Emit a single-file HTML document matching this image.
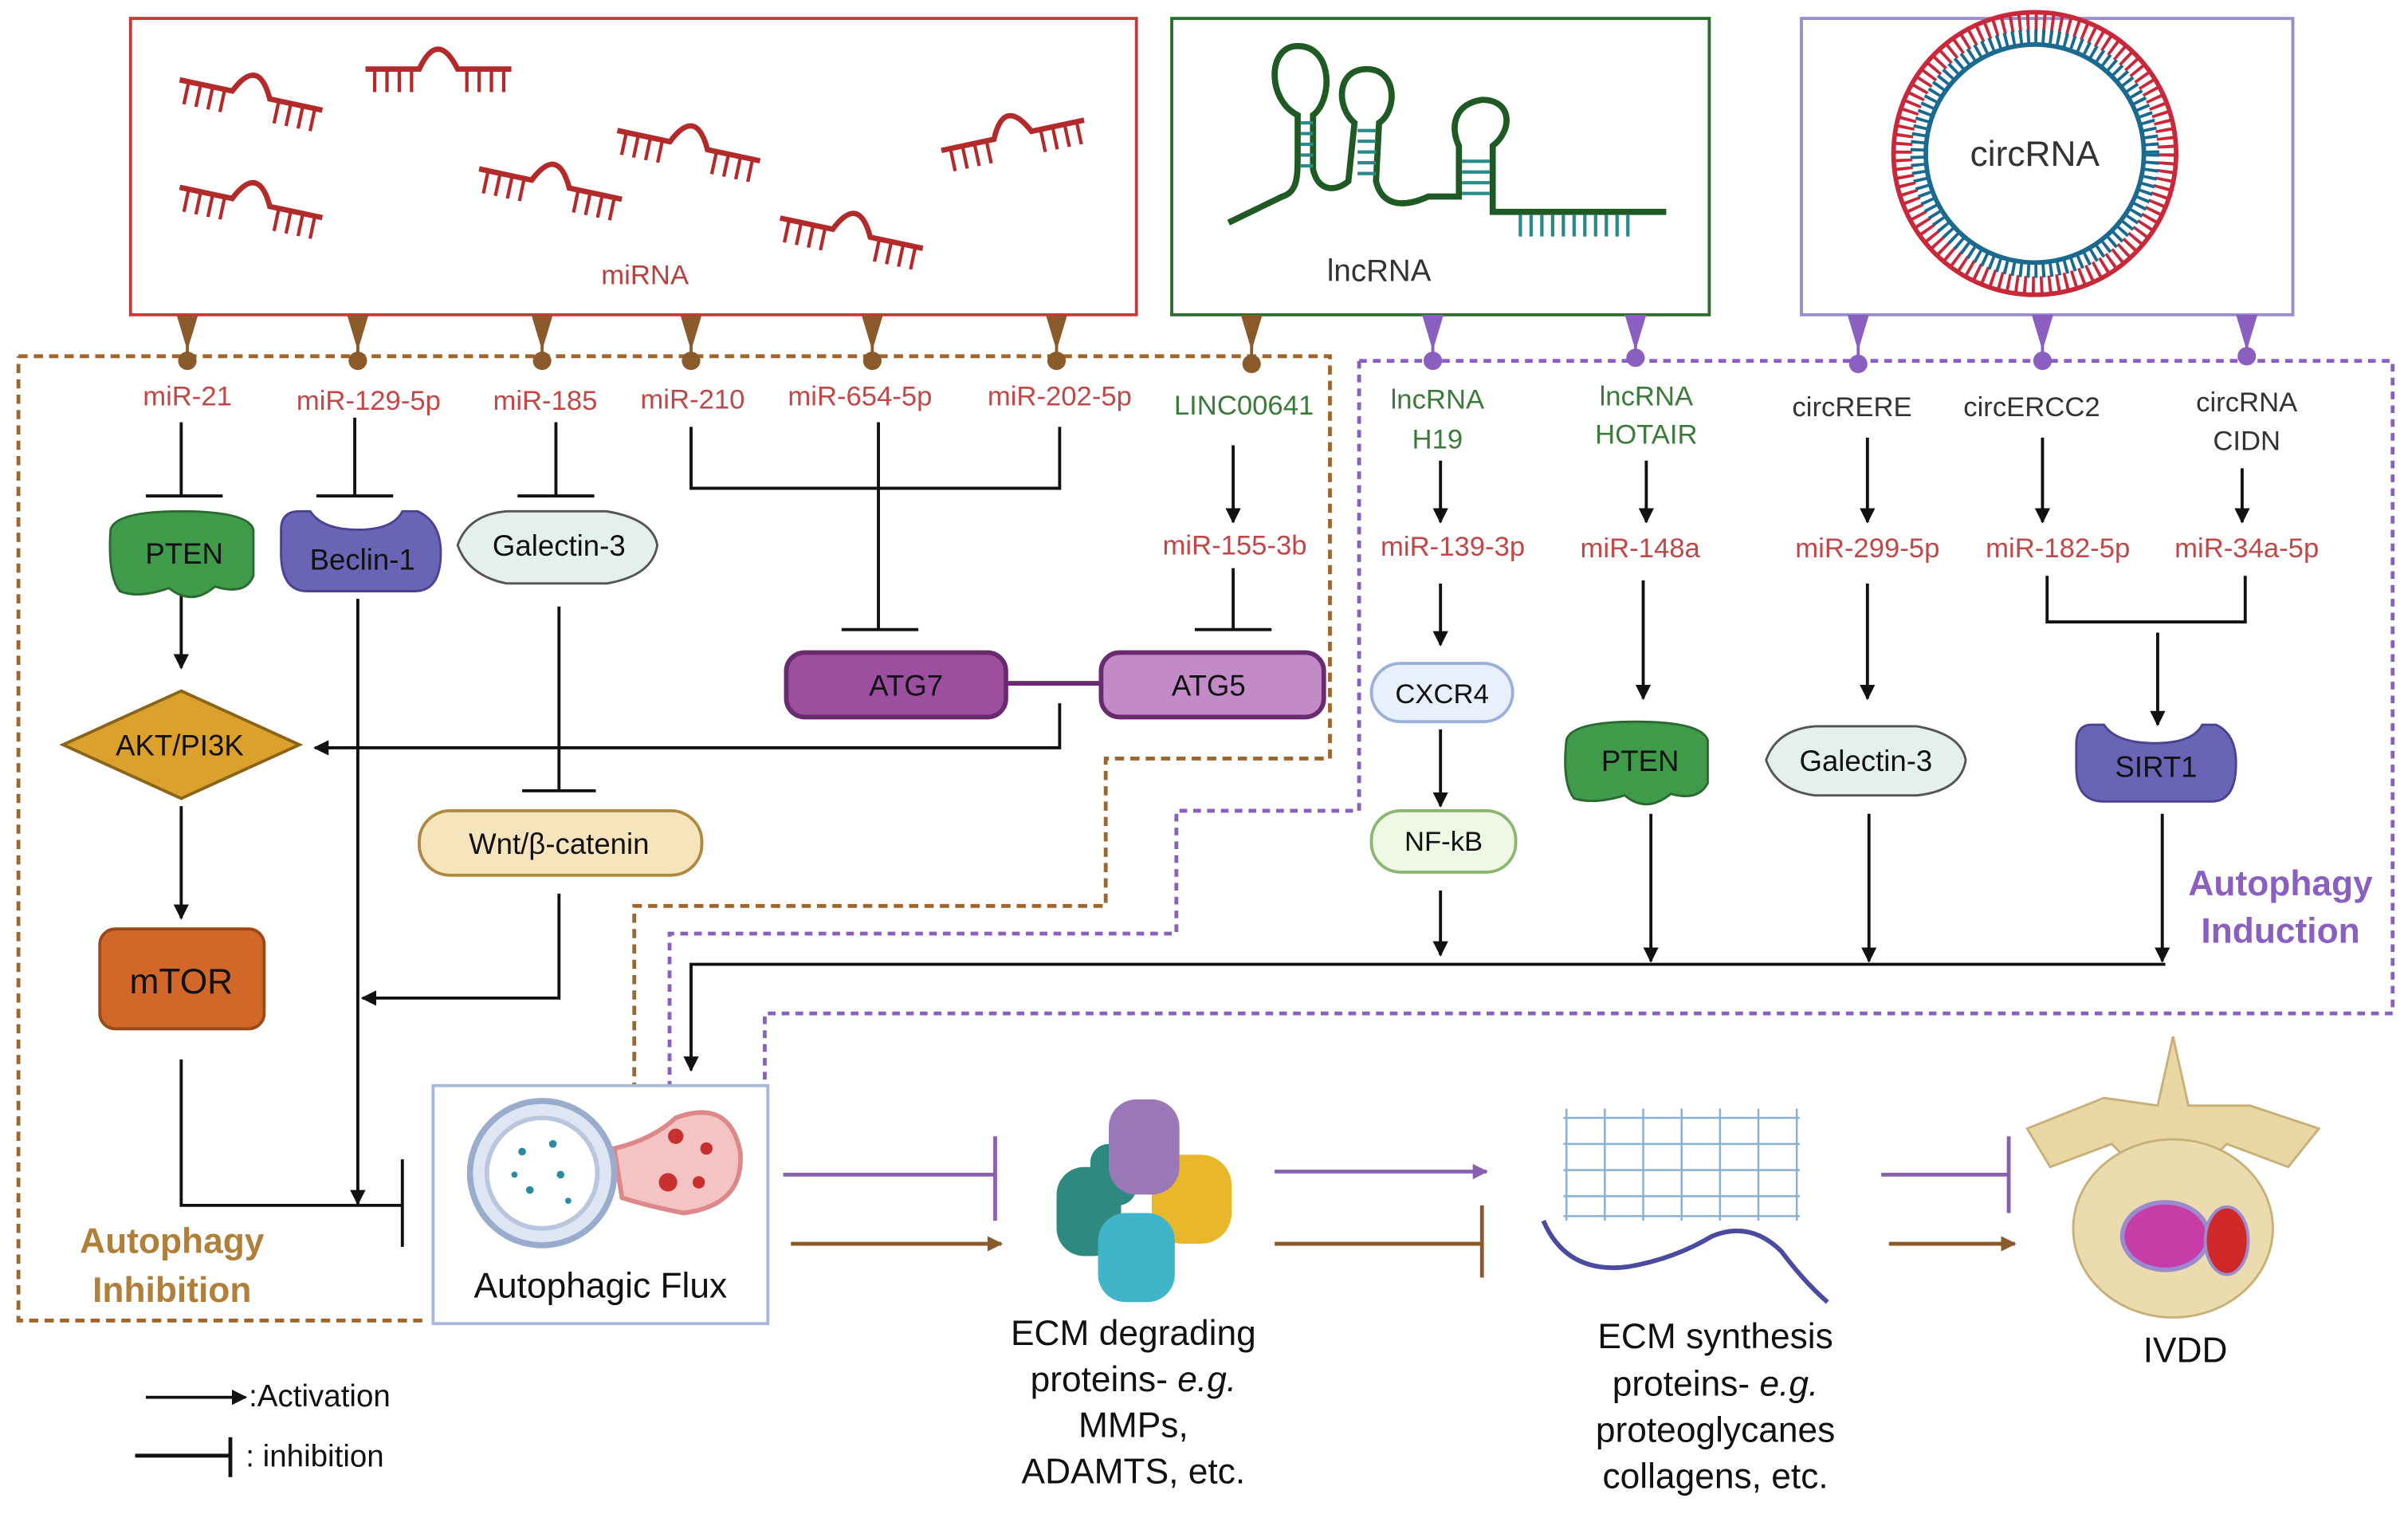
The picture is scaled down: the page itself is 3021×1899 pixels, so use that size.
<!DOCTYPE html>
<html><head><meta charset="utf-8"><style>
html,body{margin:0;padding:0;background:#fff}
svg{display:block}
text{font-family:"Liberation Sans",sans-serif}
</style></head><body>
<svg width="3021" height="1899" viewBox="0 0 1568 986" preserveAspectRatio="none" xmlns="http://www.w3.org/2000/svg">
<defs>
<marker id="ar" viewBox="0 0 10 10" refX="9" refY="5" markerWidth="5" markerHeight="5" orient="auto-start-reverse"><path d="M0,0L10,5L0,10z" fill="#111"/></marker>
<marker id="arp" viewBox="0 0 10 10" refX="9" refY="5" markerWidth="4" markerHeight="4" orient="auto"><path d="M0,0L10,5L0,10z" fill="#8a5fb0"/></marker>
<marker id="arb" viewBox="0 0 10 10" refX="9" refY="5" markerWidth="4" markerHeight="4" orient="auto"><path d="M0,0L10,5L0,10z" fill="#8b5a2b"/></marker>
<g id="mi" fill="none" stroke="#b22a2a" stroke-width="3.5">
<path d="M0,0 L35,0 Q47,-26 60,0 L95,0"/>
<path d="M6,0v15M14,0v15M22,0v15M30,0v15M66,0v15M74,0v15M82,0v15M90,0v15" stroke-width="2.2"/>
</g>
</defs>

<!-- top boxes -->
<rect x="85" y="12" width="655" height="193" fill="#fff" stroke="#c83a3a" stroke-width="2"/>
<rect x="763" y="12" width="350" height="193" fill="#fff" stroke="#2e6b2e" stroke-width="2"/>
<rect x="1173" y="12" width="320" height="193" fill="#fff" stroke="#9b8ccc" stroke-width="2"/>

<use href="#mi" transform="translate(117,52) rotate(12)"/>
<use href="#mi" transform="translate(238,45)"/>
<use href="#mi" transform="translate(117,122) rotate(12)"/>
<use href="#mi" transform="translate(312,110) rotate(12)"/>
<use href="#mi" transform="translate(402,85) rotate(12)"/>
<use href="#mi" transform="translate(508,142) rotate(12)"/>
<use href="#mi" transform="translate(613,98) rotate(-12)"/>
<text x="420" y="185" font-size="18" fill="#b84040" text-anchor="middle">miRNA</text>

<!-- lncRNA -->
<g fill="none" stroke="#1f5a24" stroke-width="4">
<path d="M800,145 L835,128 C845,125 845,115 845,100 L845,75 C825,65 825,30 845,30 C868,30 868,65 855,75 L855,110 C858,125 870,125 878,118 L882,80 C870,70 870,45 890,45 C910,45 910,72 898,80 L896,118 C900,135 915,135 930,128 L950,128 L950,95 C945,85 945,68 965,65 C985,65 985,85 972,95 L972,138 L1085,138"/>
</g>
<g stroke="#2a8a8a" stroke-width="2.2">
<path d="M847,80h8M847,87h8M847,94h8M847,101h8M847,108h8M884,85h12M884,92h12M884,99h12M884,106h12M884,113h12M952,105h18M952,112h18M952,119h18M952,126h18"/>
<path d="M990,140v14M997,140v14M1004,140v14M1011,140v14M1018,140v14M1025,140v14M1032,140v14M1039,140v14M1046,140v14M1053,140v14M1060,140v14"/>
</g>
<text x="898" y="183" font-size="20" fill="#333" text-anchor="middle">lncRNA</text>

<!-- circRNA -->
<circle cx="1325" cy="100" r="86" fill="none" stroke="#c8283a" stroke-width="12" stroke-dasharray="2 3.4"/>
<circle cx="1325" cy="100" r="76" fill="none" stroke="#1a6a90" stroke-width="10" stroke-dasharray="2 2.9"/>
<circle cx="1325" cy="100" r="92" fill="none" stroke="#c8283a" stroke-width="3"/>
<circle cx="1325" cy="100" r="71" fill="#fff" stroke="#1a6a90" stroke-width="3"/>
<text x="1325" y="108" font-size="23" fill="#333" text-anchor="middle">circRNA</text>

<!-- dashed regions -->
<path d="M12,232 H866 V494 H720 V590 H413 V707 M275,860 H12 V232" fill="none" stroke="#a0652a" stroke-width="2.5" stroke-dasharray="6 4"/>
<path d="M885,235 H1558 V660 H498 V707 M885,235 V528 H766 V608 H436 V707" fill="none" stroke="#8a5fc0" stroke-width="2.5" stroke-dasharray="5 4"/>

<!-- connectors from boxes -->
<g fill="#8b5a2b">
<path d="M115,205h14l-6,20h-2z"/><circle cx="122" cy="235" r="6"/><rect x="121" y="215" width="2" height="18"/>
<path d="M226,205h14l-6,20h-2z"/><circle cx="233" cy="235" r="6"/><rect x="232" y="215" width="2" height="18"/>
<path d="M346,205h14l-6,20h-2z"/><circle cx="353" cy="235" r="6"/><rect x="352" y="215" width="2" height="18"/>
<path d="M443,205h14l-6,20h-2z"/><circle cx="450" cy="235" r="6"/><rect x="449" y="215" width="2" height="18"/>
<path d="M561,205h14l-6,20h-2z"/><circle cx="568" cy="235" r="6"/><rect x="567" y="215" width="2" height="18"/>
<path d="M681,205h14l-6,20h-2z"/><circle cx="688" cy="235" r="6"/><rect x="687" y="215" width="2" height="18"/>
<path d="M808,205h14l-6,20h-2z"/><circle cx="815" cy="237" r="6"/><rect x="814" y="215" width="2" height="18"/>
</g>
<g fill="#8a5fc0">
<path d="M926,205h14l-6,20h-2z"/><circle cx="933" cy="235" r="6"/><rect x="932" y="215" width="2" height="18"/>
<path d="M1058,205h14l-6,20h-2z"/><circle cx="1065" cy="233" r="6"/><rect x="1064" y="215" width="2" height="18"/>
<path d="M1203,205h14l-6,20h-2z"/><circle cx="1210" cy="237" r="6"/><rect x="1209" y="215" width="2" height="18"/>
<path d="M1323,205h14l-6,20h-2z"/><circle cx="1330" cy="235" r="6"/><rect x="1329" y="215" width="2" height="18"/>
<path d="M1456,205h14l-6,20h-2z"/><circle cx="1463" cy="232" r="6"/><rect x="1462" y="215" width="2" height="18"/>
</g>

<!-- labels -->
<g font-size="18" fill="#c04848" text-anchor="middle">
<text x="122" y="264">miR-21</text>
<text x="240" y="267">miR-129-5p</text>
<text x="355" y="267">miR-185</text>
<text x="451" y="266">miR-210</text>
<text x="560" y="264">miR-654-5p</text>
<text x="690" y="264">miR-202-5p</text>
<text x="804" y="361">miR-155-3b</text>
<text x="946" y="362">miR-139-3p</text>
<text x="1068" y="363">miR-148a</text>
<text x="1216" y="363">miR-299-5p</text>
<text x="1340" y="363">miR-182-5p</text>
<text x="1463" y="363">miR-34a-5p</text>
</g>
<g font-size="18" fill="#3c7a3c" text-anchor="middle">
<text x="810" y="270">LINC00641</text>
<text x="936" y="266">lncRNA</text><text x="936" y="292">H19</text>
<text x="1072" y="264">lncRNA</text><text x="1072" y="289">HOTAIR</text>
</g>
<g font-size="18" fill="#333" text-anchor="middle">
<text x="1206" y="271">circRERE</text>
<text x="1323" y="271">circERCC2</text>
<text x="1463" y="268">circRNA</text><text x="1463" y="293">CIDN</text>
</g>

<g stroke="#111" stroke-width="2" fill="none">
<!-- left inhibitions -->
<path d="M118,275V323M95,323H145"/>
<path d="M231,272V323M206,323H256"/>
<path d="M362,275V323M337,323H387"/>
<path d="M450,278V318H690V278M572,275V410M548,410H598"/>
<path d="M803,290V340" marker-end="url(#ar)"/>
<path d="M803,370V410M778,410H828"/>
<path d="M118,387V435" marker-end="url(#ar)"/>
<path d="M690,458V487H205" marker-end="url(#ar)"/>
<path d="M118,525V598" marker-end="url(#ar)"/>
<path d="M118,690V785H262M262,755V812"/>
<path d="M233,390V784" marker-end="url(#ar)"/>
<path d="M364,395V515M340,515H388"/>
<path d="M364,582V650H236" marker-end="url(#ar)"/>
<!-- right -->
<path d="M938,300V340" marker-end="url(#ar)"/>
<path d="M938,380V420" marker-end="url(#ar)"/>
<path d="M938,475V525" marker-end="url(#ar)"/>
<path d="M938,580V622" marker-end="url(#ar)"/>
<path d="M1072,300V340" marker-end="url(#ar)"/>
<path d="M1070,378V455" marker-end="url(#ar)"/>
<path d="M1075,530V626" marker-end="url(#ar)"/>
<path d="M1216,285V340" marker-end="url(#ar)"/>
<path d="M1216,380V455" marker-end="url(#ar)"/>
<path d="M1217,530V626" marker-end="url(#ar)"/>
<path d="M1330,285V340" marker-end="url(#ar)"/>
<path d="M1460,305V340" marker-end="url(#ar)"/>
<path d="M1333,375V405H1462V375"/>
<path d="M1405,412V472" marker-end="url(#ar)"/>
<path d="M1408,530V626" marker-end="url(#ar)"/>
<path d="M1410,628H450V697" marker-end="url(#ar)"/>
<!-- legend -->
<path d="M95,910H160" marker-end="url(#ar)"/>
<path d="M88,948H150M150,936V962" stroke-width="2.5"/>
</g>

<!-- shapes left -->
<path d="M72,345 Q75,333 118,333 Q162,333 165,345 L165,375 Q160,388 140,382 Q125,395 110,383 Q90,390 78,385 Q70,375 72,345z" fill="#3f9a4a" stroke="#2a6a30" stroke-width="1.5"/>
<text x="120" y="367" font-size="19" fill="#111" text-anchor="middle">PTEN</text>
<path d="M183,345 Q183,333 195,333 L202,333 Q210,345 233,345 Q256,345 262,333 L272,333 Q287,340 287,360 Q287,385 270,385 L200,385 Q183,385 183,360z" fill="#6a64b6" stroke="#4a4490" stroke-width="1.5"/>
<text x="236" y="371" font-size="19" fill="#111" text-anchor="middle">Beclin-1</text>
<path d="M298,355 Q305,335 330,333 L395,333 Q425,338 428,355 Q425,375 395,380 L330,380 Q305,375 298,355z" fill="#e3f0ee" stroke="#555" stroke-width="1.5"/>
<text x="364" y="362" font-size="19" fill="#111" text-anchor="middle">Galectin-3</text>
<path d="M118,450 L195,485 L118,520 L41,485z" fill="#dba12c" stroke="#8a6418" stroke-width="2"/>
<text x="117" y="492" font-size="19" fill="#111" text-anchor="middle">AKT/PI3K</text>
<rect x="65" y="605" width="107" height="65" rx="10" fill="#d2672a" stroke="#9a4a18" stroke-width="2"/>
<text x="118" y="647" font-size="23" fill="#111" text-anchor="middle">mTOR</text>
<rect x="512" y="425" width="143" height="42" rx="12" fill="#9c4f9e" stroke="#6a2a70" stroke-width="3"/>
<rect x="717" y="425" width="145" height="42" rx="12" fill="#c28bc8" stroke="#6a2a70" stroke-width="3"/>
<path d="M655,445H717" stroke="#6a2a70" stroke-width="3"/>
<text x="590" y="453" font-size="19" fill="#111" text-anchor="middle">ATG7</text>
<text x="787" y="453" font-size="19" fill="#111" text-anchor="middle">ATG5</text>
<rect x="273" y="528" width="184" height="42" rx="20" fill="#f6e4bc" stroke="#b08840" stroke-width="2"/>
<text x="364" y="556" font-size="19" fill="#111" text-anchor="middle">Wnt/β-catenin</text>

<!-- shapes right -->
<rect x="893" y="432" width="92" height="38" rx="19" fill="#e8f0fb" stroke="#9ab0d8" stroke-width="2"/>
<text x="939" y="458" font-size="18" fill="#111" text-anchor="middle">CXCR4</text>
<rect x="893" y="528" width="94" height="40" rx="19" fill="#eef8e4" stroke="#8ab870" stroke-width="2"/>
<text x="940" y="554" font-size="18" fill="#111" text-anchor="middle">NF-kB</text>
<path d="M1020,482 Q1023,470 1065,470 Q1108,470 1112,482 L1112,510 Q1106,522 1088,517 Q1072,530 1058,518 Q1038,524 1025,520 Q1017,510 1020,482z" fill="#3f9a4a" stroke="#2a6a30" stroke-width="1.5"/>
<text x="1068" y="502" font-size="19" fill="#111" text-anchor="middle">PTEN</text>
<path d="M1150,495 Q1157,475 1182,473 L1248,473 Q1277,478 1280,495 Q1277,515 1248,518 L1182,518 Q1157,515 1150,495z" fill="#e3f0ee" stroke="#555" stroke-width="1.5"/>
<text x="1215" y="502" font-size="19" fill="#111" text-anchor="middle">Galectin-3</text>
<path d="M1352,485 Q1352,472 1362,472 L1370,472 Q1378,484 1403,484 Q1428,484 1434,472 L1443,472 Q1456,478 1456,497 Q1456,522 1440,522 L1370,522 Q1352,522 1352,500z" fill="#6a64b6" stroke="#4a4490" stroke-width="1.5"/>
<text x="1404" y="506" font-size="19" fill="#111" text-anchor="middle">SIRT1</text>

<text x="1485" y="583" font-size="23" font-weight="bold" fill="#8a5fc0" text-anchor="middle">Autophagy</text>
<text x="1485" y="614" font-size="23" font-weight="bold" fill="#8a5fc0" text-anchor="middle">Induction</text>
<text x="112" y="816" font-size="23" font-weight="bold" fill="#b0803a" text-anchor="middle">Autophagy</text>
<text x="112" y="848" font-size="23" font-weight="bold" fill="#b0803a" text-anchor="middle">Inhibition</text>

<!-- Autophagic flux -->
<rect x="282" y="707" width="218" height="155" fill="#fff" stroke="#a8b8dc" stroke-width="2"/>
<path d="M400,748 Q425,742 440,728 Q475,715 482,750 Q485,785 445,790 Q420,785 405,780z" fill="#f4c4c4" stroke="#d88" stroke-width="3"/>
<circle cx="353" cy="764" r="47" fill="#dde6f2" stroke="#9aaccc" stroke-width="4"/>
<circle cx="353" cy="764" r="36" fill="#fff" stroke="#b8c6de" stroke-width="3"/>
<g fill="#c83030"><circle cx="440" cy="740" r="5"/><circle cx="460" cy="748" r="4"/><circle cx="435" cy="770" r="6"/><circle cx="455" cy="770" r="4"/></g>
<g fill="#2a8aa0"><circle cx="340" cy="750" r="2.5"/><circle cx="360" cy="745" r="2.5"/><circle cx="345" cy="775" r="2.5"/><circle cx="365" cy="765" r="2.5"/><circle cx="335" cy="765" r="2"/><circle cx="370" cy="782" r="2"/></g>
<text x="391" y="845" font-size="23" fill="#111" text-anchor="middle">Autophagic Flux</text>

<!-- bottom arrows -->
<path d="M510,765H648M648,740V795" stroke="#8a5fb0" stroke-width="2.5" fill="none"/>
<path d="M515,810H652" stroke="#8b5a2b" stroke-width="2.5" marker-end="url(#arb)"/>
<path d="M830,763H968" stroke="#8a5fb0" stroke-width="2.5" marker-end="url(#arp)"/>
<path d="M830,810H965M965,785V832" stroke="#8b5a2b" stroke-width="2.5" fill="none"/>
<path d="M1225,765H1308M1308,740V790" stroke="#8a5fb0" stroke-width="2.5" fill="none"/>
<path d="M1230,810H1312" stroke="#8b5a2b" stroke-width="2.5" marker-end="url(#arb)"/>

<!-- ECM degrading cluster -->
<g stroke="none">
<rect x="688" y="760" width="42" height="58" rx="18" fill="#2e8a80"/>
<rect x="710" y="745" width="30" height="40" rx="12" fill="#2e8a80"/>
<rect x="750" y="752" width="52" height="58" rx="20" fill="#e8b82a"/>
<rect x="715" y="790" width="50" height="58" rx="18" fill="#40b4c8"/>
<rect x="722" y="716" width="46" height="62" rx="18" fill="#9a78b8"/>
</g>
<!-- ECM synthesis mesh -->
<g stroke="#8ab0d0" stroke-width="1.3" fill="none">
<path d="M1018,728H1172M1018,745H1172M1018,762H1172M1018,779H1172M1018,792H1172"/>
<path d="M1020,722V795M1045,722V795M1070,722V795M1095,722V795M1120,722V795M1145,722V795M1170,722V795"/>
</g>
<path d="M1005,795 Q1020,830 1060,825 Q1090,820 1115,805 Q1140,795 1160,815 Q1175,835 1190,848" stroke="#4a4aa0" stroke-width="3" fill="none"/>
<!-- vertebra -->
<path d="M1415,675 L1425,720 L1465,720 L1510,735 L1490,760 L1450,745 L1430,765 L1395,765 L1375,745 L1335,760 L1320,735 L1370,715 L1405,720z" fill="#e8d6a4" stroke="#c8b078" stroke-width="1.5"/>
<ellipse cx="1415" cy="800" rx="65" ry="58" fill="#eadcae" stroke="#c8b078" stroke-width="1.5"/>
<ellipse cx="1410" cy="805" rx="28" ry="22" fill="#c83ca8" stroke="#9a8ad0" stroke-width="3"/>
<ellipse cx="1450" cy="808" rx="14" ry="22" fill="#d02828" stroke="#9a8ad0" stroke-width="2"/>

<!-- bottom texts -->
<g font-size="23" fill="#111" text-anchor="middle">
<text x="738" y="876">ECM degrading</text>
<text x="738" y="906">proteins- <tspan font-style="italic">e.g.</tspan></text>
<text x="738" y="936">MMPs,</text>
<text x="738" y="966">ADAMTS, etc.</text>
<text x="1117" y="878">ECM synthesis</text>
<text x="1117" y="909">proteins- <tspan font-style="italic">e.g.</tspan></text>
<text x="1117" y="939">proteoglycanes</text>
<text x="1117" y="969">collagens, etc.</text>
<text x="1423" y="887">IVDD</text>
</g>
<text x="162" y="916" font-size="20" fill="#111">:Activation</text>
<text x="160" y="955" font-size="20" fill="#111">: inhibition</text>
</svg>
</body></html>
